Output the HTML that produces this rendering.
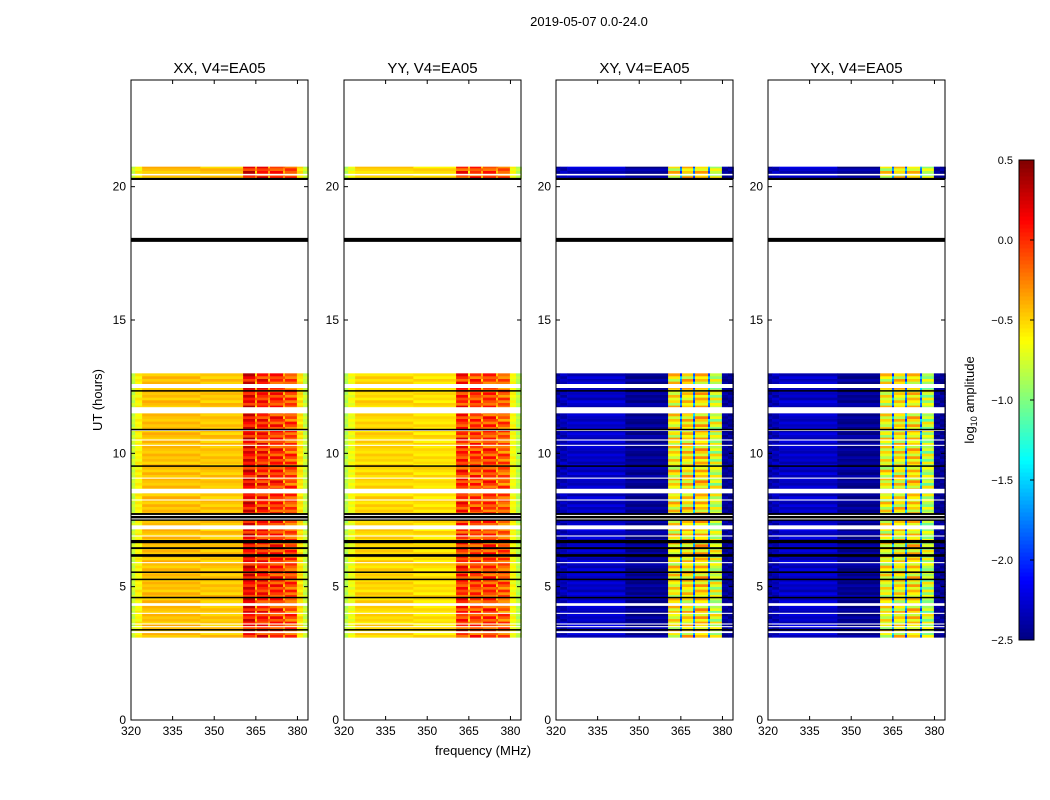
<!DOCTYPE html>
<html><head><meta charset="utf-8"><style>
body{margin:0;background:#fff;width:1050px;height:800px;overflow:hidden}
svg{display:block;font-family:"Liberation Sans",sans-serif}
</style></head><body>
<svg id="fig" width="1050" height="800" xmlns="http://www.w3.org/2000/svg">
<text x="589" y="26" font-size="13" text-anchor="middle">2019-05-07 0.0-24.0</text>
<text x="483" y="755" font-size="13" text-anchor="middle">frequency (MHz)</text>
<text transform="translate(102,400) rotate(-90)" font-size="13" text-anchor="middle">UT (hours)</text>
<text transform="translate(974,400) rotate(-90)" font-size="13" text-anchor="middle">log<tspan font-size="9" dy="3">10</tspan><tspan dy="-3"> amplitude</tspan></text>
</svg>
<script>
const panelTitles=["XX, V4=EA05","YY, V4=EA05","XY, V4=EA05","YX, V4=EA05"];
const freqEdges=[320,321.5,324,345,360.4,364.7,365.4,369.4,370.1,374.8,375.5,379.8,382,384];
const colXX=[-0.8,-0.62,-0.45,-0.47,0.1,-0.35,0.0,-0.3,-0.05,-0.3,-0.15,-0.55,-0.8];
const colYY=[-0.85,-0.68,-0.52,-0.55,-0.05,-0.45,-0.1,-0.35,-0.1,-0.35,-0.2,-0.65,-0.85];
const colXY=[-2.4,-2.35,-2.3,-2.45,-0.65,-1.8,-0.6,-1.8,-0.55,-1.8,-0.8,-2.45,-2.45];
const colYX=[-2.4,-2.35,-2.3,-2.45,-0.7,-1.8,-0.65,-1.8,-0.6,-1.8,-0.85,-2.45,-2.45];
const texture=[0,0.1,-0.06,0.14,-0.1,0.04,0.16,-0.12,0.06,-0.03,0.12,-0.08];
const dataRanges=[[3.1,13.0],[20.3,20.75]];
const whiteGaps=[[12.45,12.6],[11.5,11.73],[8.5,8.67],[7.15,7.3],[4.28,4.38],[3.26,3.33],[20.42,20.48],[10.84,10.88],[10.48,10.52],[10.28,10.32],[9.05,9.09],[8.23,8.27],[6.88,6.92],[5.88,5.92],[3.98,4.02],[3.58,3.62],[3.48,3.52]];
const blackLines=[[12.32,12.37],[10.88,10.92],[9.5,9.55],[7.47,7.76],[6.63,6.75],[6.41,6.48],[6.12,6.22],[5.53,5.57],[5.26,5.3],[4.58,4.62],[3.37,3.41],[17.93,18.08],[20.25,20.33]];
const whiteInBlack=[[7.53,7.56],[7.66,7.69]];
const xTicks=[320,335,350,365,380];
const yTicks=[0,5,10,15,20];
const cbTicks=[0.5,0.0,-0.5,-1.0,-1.5,-2.0,-2.5];
const panelX=[131,344,556,768];
const texAmp=[1,1,1.3,1.3];
const cols=[colXX,colYY,colXY,colYX];
const PW=177,PT=80,PB=720,FMIN=320,FMAX=383.8,TMAX=24,VMIN=-2.5,VMAX=0.5;
const NS="http://www.w3.org/2000/svg";
const svg=document.getElementById('fig');
function jet(v){let t=(v-VMIN)/(VMAX-VMIN);t=Math.max(0,Math.min(1,t));
 const c=x=>Math.round(255*Math.max(0,Math.min(1,1.5-Math.abs(4*t-x))));
 return `rgb(${c(3)},${c(2)},${c(1)})`;}
function mk(tag,at,parent){const e=document.createElementNS(NS,tag);for(const k in at)e.setAttribute(k,at[k]);(parent||svg).appendChild(e);return e;}
const yS=h=>PB-(h/TMAX)*(PB-PT);
panelX.forEach((px,p)=>{
 const xS=f=>px+(f-FMIN)/(FMAX-FMIN)*PW;
 const g=mk('g',{});
 
 
 const hm=mk('g',{},g);
 
 
 dataRanges.forEach(([a,b])=>{
  let i=0;
  for(let h=a;h<b-1e-6;h+=0.1,i++){
   const h2=Math.min(b,h+0.1);
   for(let c=0;c<cols[p].length;c++){
    const band=c>=4&&c<=10;
    const v=cols[p][c]+texture[(i+c)%texture.length]*texAmp[p]*(band?1.6:0.5);
    const r=mk('rect',{x:xS(freqEdges[c]),y:yS(h2),width:xS(freqEdges[c+1])-xS(freqEdges[c])+0.3,height:yS(h)-yS(h2)+0.3,fill:jet(v)},hm);
    
    
   }
  }
 });
 whiteGaps.forEach(([a,b])=>{const r=mk('rect',{x:px,y:yS(b),width:PW,height:Math.max(1,yS(a)-yS(b)),fill:'#fff'},g);
  });
 blackLines.forEach(([a,b])=>{const r=mk('rect',{x:px,y:yS(b),width:PW,height:Math.max(1.5,yS(a)-yS(b)),fill:'#000'},g);
  });
 whiteInBlack.forEach(([a,b])=>{const r=mk('rect',{x:px,y:yS(b),width:PW,height:1,fill:'#fff'},g);
  });
 const fr=mk('rect',{x:px,y:PT,width:PW,height:PB-PT,fill:'none',stroke:'#000','stroke-width':1},g);
 
 const t=mk('text',{x:px+PW/2,y:PT-7,'font-size':15,'text-anchor':'middle'},g);t.textContent=panelTitles[p];
 
 xTicks.forEach(f=>{const x=xS(f);
  mk('line',{x1:x,x2:x,y1:PB,y2:PB-4,stroke:'#000'},g);mk('line',{x1:x,x2:x,y1:PT,y2:PT+4,stroke:'#000'},g);
  const l=mk('text',{x:x,y:PB+15,'font-size':12,'text-anchor':'middle'},g);l.textContent=f;
  });
 yTicks.forEach(h=>{const y=yS(h);
  mk('line',{x1:px,x2:px+4,y1:y,y2:y,stroke:'#000'},g);mk('line',{x1:px+PW,x2:px+PW-4,y1:y,y2:y,stroke:'#000'},g);
  const l=mk('text',{x:px-5,y:y+4,'font-size':12,'text-anchor':'end'},g);l.textContent=h;
  });
});
// colorbar
const CX=1019,CW=15,CT=160,CB=640;
const cbS=v=>CB-(v-VMIN)/(VMAX-VMIN)*(CB-CT);
const cg=mk('g',{});


for(let i=0;i<120;i++){const v0=VMIN+(VMAX-VMIN)*i/120,v1=VMIN+(VMAX-VMIN)*(i+1)/120;
 mk('rect',{x:CX,y:cbS(v1),width:CW,height:cbS(v0)-cbS(v1)+0.5,fill:jet((v0+v1)/2)},cg);}
mk('rect',{x:CX,y:CT,width:CW,height:CB-CT,fill:'none',stroke:'#000'},cg);
cbTicks.forEach(v=>{const y=cbS(v);
 mk('line',{x1:CX+CW-4,x2:CX+CW,y1:y,y2:y,stroke:'#000'},cg);
 const l=mk('text',{x:1013,y:y+4,'font-size':11,'text-anchor':'end'},cg);l.textContent=(v<0?'\u2212':'')+Math.abs(v).toFixed(1);
 });
</script>
</body></html>
